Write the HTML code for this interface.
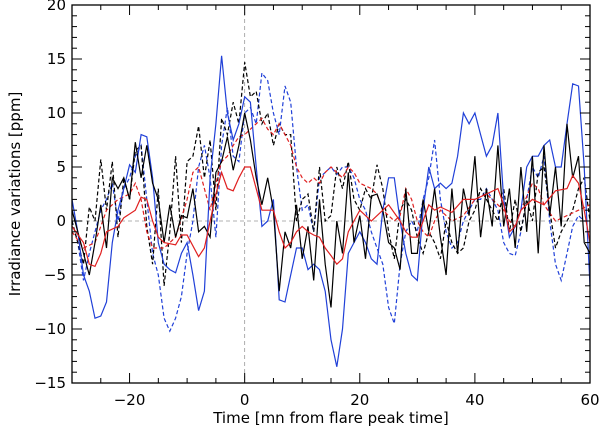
<!DOCTYPE html>
<html><head><meta charset="utf-8"><style>
html,body{margin:0;padding:0;background:#fff}
svg text{font-family:"DejaVu Sans","Liberation Sans",sans-serif;fill:#000}
</style></head><body>
<svg id="chart" width="600" height="433" viewBox="0 0 600 433" xmlns="http://www.w3.org/2000/svg">
<g id="grid"></g>
<g id="series"></g>
<rect x="72" y="5" width="518" height="378" fill="none" stroke="#000" stroke-width="1.3"/>
<g id="ticks"></g>
<text x="331" y="423" font-size="15" text-anchor="middle">Time [mn from flare peak time]</text>
<text transform="translate(20,194) rotate(-90)" font-size="15" text-anchor="middle">Irradiance variations [ppm]</text>
</svg>
<script>
const xTicks=[-20,0,20,40,60];
const yTicks=[-15,-10,-5,0,5,10,15,20];
const tFull=[];for(let t=-30;t<=60;t++)tFull.push(t);
const blueSolid=[2,-1,-5,-6.5,-9,-8.8,-7.5,-2,1,3,5.2,4.5,8,7.8,4,-2,-4,-4.5,-4.8,-3,-2,-5,-8.3,-6.5,4,9,15.3,10,7.5,9,11.5,11,5,-0.5,0,2,-7.3,-7.5,-5,-2.5,-2.5,-4.5,-4,-4.5,-6.5,-11,-13.5,-10,-3,-2,-1,-2,-3.5,-4,1,4,4,0,-3,-5,-5.5,1,5,3,3.5,3,3.5,6,10,9,10,8,6,7,10,2,-1.5,-0.5,1,5,6,6,7,7.5,5,5,9,12.7,12.5,5,-6];
const blackSolid=[1,-1,-3,-5,-2,1.5,-2.5,4,3,4,2,7.3,4,7,3.5,2,-2,1.5,-1.5,0.5,0.3,3,-1,-0.5,-1.5,4.5,5.5,7.8,4.7,7,10,7.5,4,1.5,4,1,-6.5,-1,-2.5,1.5,-3.5,-0.5,-5.5,2,-4,-8,0,-3,4.5,-2,0.5,-3.5,2.3,2.5,1,-2,-2.5,-4.5,3,-3,-3,2,-1,3,-1.5,-5,3,-3,3,0.5,6,-1.5,3,-0.5,7,-0.5,3,-2.5,5,-1,6,-3,7,0.5,5,-0.5,9,4,6,-2,-3];
const blackDashed=[0,-2,-4,1.3,0,5.7,1,5.5,-1.5,4,2,6.5,7,-0.5,-4,3,-6,-1,6,-2,5.5,6,8.8,4,7.5,1,9.5,8,11,9,14.7,11.5,12,9,10,7,9,8,8,0,2,2.5,-1,5,0,0.5,5,3,5.5,2,1,3,2,5.2,3,-1,-3.5,1,2,1,-1.5,-3,-1,-2,-3.5,0,-2,-3,-2.5,0,1,3,2,1,0,3,-1,2,-1,2,0,4.5,5,1,-2.5,-1,0,1,3,4,0];
const blueDashed=[0,-2,-5.5,-3,-1,1,2,3.5,0,3,4,6,7,2,-3,-5,-9,-10.2,-9,-7,-3,0,5,7,4,-1.5,7,10.5,6,5.5,10,10.5,9,13.7,13,10,8,12.5,11,5,1,1.5,-1,4,4.5,5,4.3,5,5,4,2,1,-1,-2.5,-4,-8,-9.5,-4,-1,0,-1,2,4,7.5,2,-1,-2.5,-2,0,1,2,2,3,2,1,-2,-3,-3.2,-1,2,5,4,6,0,-4,-5.5,-3,-0.5,0.5,0,0];
const tRedSolid=[-30,-28,-27,-26,-25,-24,-22,-21,-19,-18,-17,-16,-15,-14,-12,-11,-10,-8,-7,-5,-4,-3,-2,-1,0,1,2,3,4,5,6,7,8,9,10,11,12,13,14,15,16,17,18,19,20,22,24,25,27,28,29,30,31,32,33,34,36,38,40,42,44,45,46,47,48,50,52,54,56,57,58,59,60];
const redSolid=[-0.5,-2,-4,-4.2,-3,-1,-0.5,0.3,1,2.2,2,0,-1.5,-2,-2.2,-1.3,-1.3,-3.3,-2.5,2.5,4.5,3,2.8,4,5,5,3,1,1,1,-1,-2.5,-2,-1,-0.5,-1,-1.3,-1.5,-2.5,-3.2,-4,-3.5,-1,0,1,0,1,1.5,0,-1,-1.5,-1.5,0,1.5,1,1.3,0.8,2,2,2.5,3,1.5,-1,-0.5,1,2,1.5,2.8,3,4.2,3.5,1,-2];
const tRedDashed=[-30,-28,-26,-24,-22,-20,-19,-18,-17,-16,-14,-12,-10,-9,-8,-7,-6,-5,-4,-3,-2,-1,0,1,2,3,4,5,6,7,8,9,10,11,12,13,14,15,16,17,18,19,20,22,23,24,25,26,27,28,29,30,31,32,33,34,35,36,38,40,42,44,45,46,47,48,50,51,52,54,56,58,60];
const redDashed=[-1,-2.5,-2,1,2,2.5,3.5,2,-1,-2.5,-2.5,-1.5,2,4.5,5,3,1,3.5,5.5,6,7,7.8,8,8.5,9,9.5,8.5,8,9,8,7,5,4,3.5,4,3.5,4.5,5,4.5,4,5,4.5,3.5,3,2.5,1,0.5,0,0.5,3,2,0,-1,-1.5,0,1,0.5,0,0.5,2,2.5,1.5,1,0,-0.5,1,3.5,3,1.5,0,0.5,1,1.5];

const X0=72,X1=590,Y0=383,Y1=5;
const xs=t=>X0+(t+30)/90*(X1-X0);
const ys=v=>Y0-(v+15)/35*(Y0-Y1);
const NS='http://www.w3.org/2000/svg';
function mk(tag,attrs,parent){const e=document.createElementNS(NS,tag);for(const k in attrs)e.setAttribute(k,attrs[k]);parent.appendChild(e);return e;}
const grid=document.getElementById('grid');
const vz=mk('line',{x1:xs(0),x2:xs(0),y1:Y1,y2:Y0,stroke:'#999','stroke-dasharray':'4,3','stroke-width':0.8},grid);


const hz=mk('line',{x1:X0,x2:X1,y1:ys(0),y2:ys(0),stroke:'#999','stroke-dasharray':'4,3','stroke-width':0.8},grid);


const ser=document.getElementById('series');
function line(ts,vs,color,dash,name){
  const d=ts.map((t,i)=>(i?'L':'M')+xs(t).toFixed(1)+','+ys(vs[i]).toFixed(1)).join('');
  const p=mk('path',{d:d,fill:'none',stroke:color,'stroke-width':1.2},ser);
  if(dash)p.setAttribute('stroke-dasharray','4,2.5');
  
  
}
line(tFull,blueDashed,'#2040d8',true,'blue-dashed-series');
line(tFull,blackDashed,'#000',true,'black-dashed-series');
line(tRedDashed,redDashed,'#e02020',true,'red-dashed-series');
line(tFull,blueSolid,'#2040d8',false,'blue-solid-series');
line(tFull,blackSolid,'#000',false,'black-solid-series');
line(tRedSolid,redSolid,'#e02020',false,'red-solid-series');
const tk=document.getElementById('ticks');
for(let t=-30;t<=60;t+=5){const maj=t%20===0;const L=maj?10:5;
  mk('line',{x1:xs(t),x2:xs(t),y1:Y0,y2:Y0-L,stroke:'#000'},tk);
  mk('line',{x1:xs(t),x2:xs(t),y1:Y1,y2:Y1+L,stroke:'#000'},tk);}
for(let v=-15;v<=20;v++){const maj=v%5===0;const L=maj?10:5;
  mk('line',{x1:X0,x2:X0+L,y1:ys(v),y2:ys(v),stroke:'#000'},tk);
  mk('line',{x1:X1,x2:X1-L,y1:ys(v),y2:ys(v),stroke:'#000'},tk);}
xTicks.forEach(t=>{const e=mk('text',{x:xs(t),y:405,'font-size':15,'text-anchor':'middle'},tk);e.textContent=t<0?'\u2212'+(-t):t;
  
  });
yTicks.forEach(v=>{const e=mk('text',{x:X0-6,y:ys(v)+5,'font-size':15,'text-anchor':'end'},tk);e.textContent=v<0?'\u2212'+(-v):v;
  
  });
</script>
</body></html>
